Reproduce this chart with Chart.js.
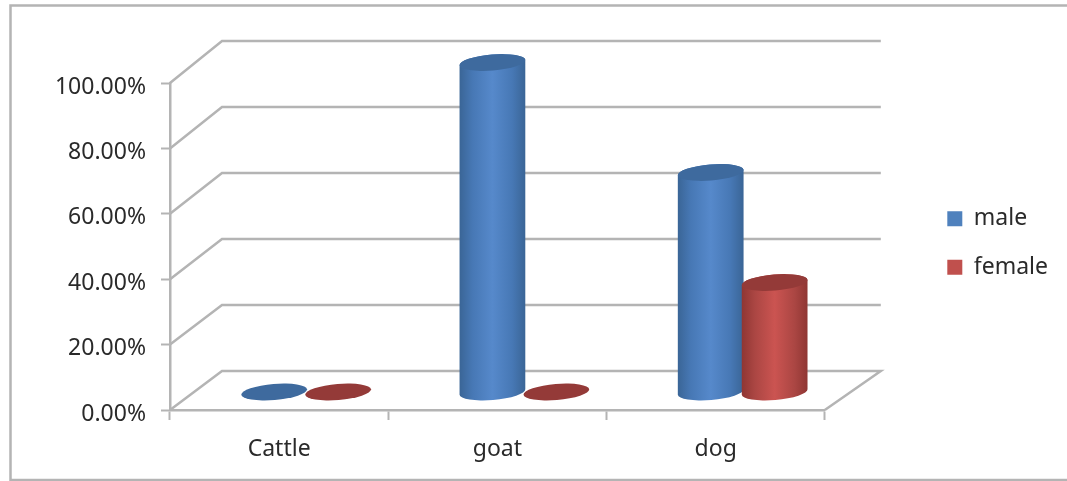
<!DOCTYPE html>
<html>
<head>
<meta charset="utf-8">
<title>Male and female by animal</title>
<script src="https://cdn.jsdelivr.net/npm/chart.js"></script>
<style>
html, body { margin: 0; padding: 0; background: #fff; }
canvas { display: block; filter: blur(0.4px); }
</style>
</head>
<body>
<canvas id="chart" width="1067" height="481"></canvas>
<script>
const categories = ['Cattle', 'goat', 'dog'];
const maleValues = [0, 1, 0.6667];
const femaleValues = [0, 0, 0.3333];
const yTicks = [0, 0.2, 0.4, 0.6, 0.8, 1];

const lineGrey = '#b4b4b4';
const textColor = '#2a2a2a';
// edge, shoulder, middle and cap colours of each cylinder
const shades = [
    { edge: '#3a6596', shoulder: '#4778b5', mid: '#5689cb', cap: '#3e6a9e' },
    { edge: '#8f3633', shoulder: '#ab4643', mid: '#cb5451', cap: '#943a38' }
];

// depth of the fake 3d box, in pixels
const backDx = 52;
const backDxRight = 56;
const backDy = 39;
const midDx = 27;
const midDy = 18;
const stretch = 330 / 327;
const tilt = -0.08;

function drawBox(chart) {
    const ctx = chart.ctx;
    const yScale = chart.scales.y;
    const area = chart.chartArea;
    ctx.save();
    ctx.strokeStyle = lineGrey;
    ctx.lineWidth = 2.5;
    // outer frame runs off the right edge
    ctx.strokeRect(10.5, 5.5, 1100, 474.5);
    const backBase = area.bottom - backDy;
    yTicks.forEach(v => {
        const y = yScale.getPixelForValue(v);
        const backY = backBase - (area.bottom - y) * stretch;
        ctx.beginPath();
        ctx.moveTo(area.left, y);
        ctx.lineTo(area.left + backDx, backY);
        ctx.lineTo(area.right + backDxRight, backY);
        if (v === 0) ctx.lineTo(area.right, y);
        ctx.stroke();
    });
    ctx.restore();
}

function drawCylinder(ctx, el, shade, baseY) {
    const cx = el.x + midDx;
    const rx = el.width / 2 + 1;
    const ry = 8;
    const topY = baseY - (el.base - el.y) * stretch;
    if (el.base - el.y > 0.5) {
        const grad = ctx.createLinearGradient(cx - rx, 0, cx + rx, 0);
        grad.addColorStop(0, shade.edge);
        grad.addColorStop(0.2, shade.shoulder);
        grad.addColorStop(0.5, shade.mid);
        grad.addColorStop(0.8, shade.shoulder);
        grad.addColorStop(1, shade.edge);
        ctx.fillStyle = grad;
        ctx.beginPath();
        ctx.ellipse(cx, baseY, rx, ry, tilt, 0, Math.PI);
        ctx.ellipse(cx, topY, rx, ry, tilt, Math.PI, Math.PI * 2);
        ctx.closePath();
        ctx.fill();
    }
    ctx.fillStyle = shade.cap;
    ctx.beginPath();
    ctx.ellipse(cx, topY, rx, ry, tilt, 0, Math.PI * 2);
    ctx.fill();
}

const cylinderPlugin = {
    id: 'cylinders',
    beforeDatasetsDraw(chart) {
        drawBox(chart);
        const ctx = chart.ctx;
        ctx.save();
        chart.data.datasets.forEach((ds, i) => {
            chart.getDatasetMeta(i).data.forEach(el => {
                drawCylinder(ctx, el, shades[i], chart.chartArea.bottom - midDy);
            });
        });
        ctx.restore();
        return false;
    }
};

new Chart(document.getElementById('chart'), {
    type: 'bar',
    data: {
        labels: categories,
        datasets: [
            { label: 'male', data: maleValues, backgroundColor: '#4f81bd', borderWidth: 0, categoryPercentage: 0.586, barPercentage: 1 },
            { label: 'female', data: femaleValues, backgroundColor: '#c0504d', borderWidth: 0, categoryPercentage: 0.586, barPercentage: 1 }
        ]
    },
    options: {
        responsive: false,
        animation: false,
        layout: { padding: { left: 0, top: 5, right: 9, bottom: 0 } },
        plugins: {
            tooltip: { enabled: false },
            title: { display: false },
            legend: {
                position: 'right',
                labels: {
                    boxWidth: 15,
                    boxHeight: 15,
                    padding: 25.5,
                    color: textColor,
                    font: { family: '"Noto Sans"', size: 23 }
                }
            }
        },
        scales: {
            x: {
                grid: { display: true, offset: true, drawOnChartArea: false, drawTicks: true, tickLength: 10, tickColor: lineGrey, tickWidth: 2 },
                border: { display: true, color: lineGrey, width: 2.5 },
                ticks: { color: textColor, padding: 16, maxRotation: 0, font: { family: '"Noto Sans"', size: 23 } },
                afterFit(s) { s.height = 71; }
            },
            y: {
                min: 0,
                max: 1,
                grid: { display: true, drawOnChartArea: false, drawTicks: true, tickLength: 9, tickColor: lineGrey, tickWidth: 2 },
                border: { display: true, color: lineGrey, width: 2.5 },
                ticks: {
                    stepSize: 0.2,
                    color: textColor,
                    padding: 15,
                    labelOffset: 4,
                    font: { family: '"Noto Sans"', size: 23 },
                    callback: v => (v * 100).toFixed(2) + '%'
                },
                afterFit(s) { s.width = 170; }
            },
            // empty axes, they only hold the space above the plot and before the legend
            gap: {
                position: 'right',
                grid: { display: false },
                border: { display: false },
                ticks: { display: false },
                afterFit(s) { s.width = 97; }
            },
            gapTop: {
                position: 'top',
                grid: { display: false },
                border: { display: false },
                ticks: { display: false },
                afterFit(s) { s.height = 78; }
            }
        }
    },
    plugins: [cylinderPlugin]
});
</script>
</body>
</html>
